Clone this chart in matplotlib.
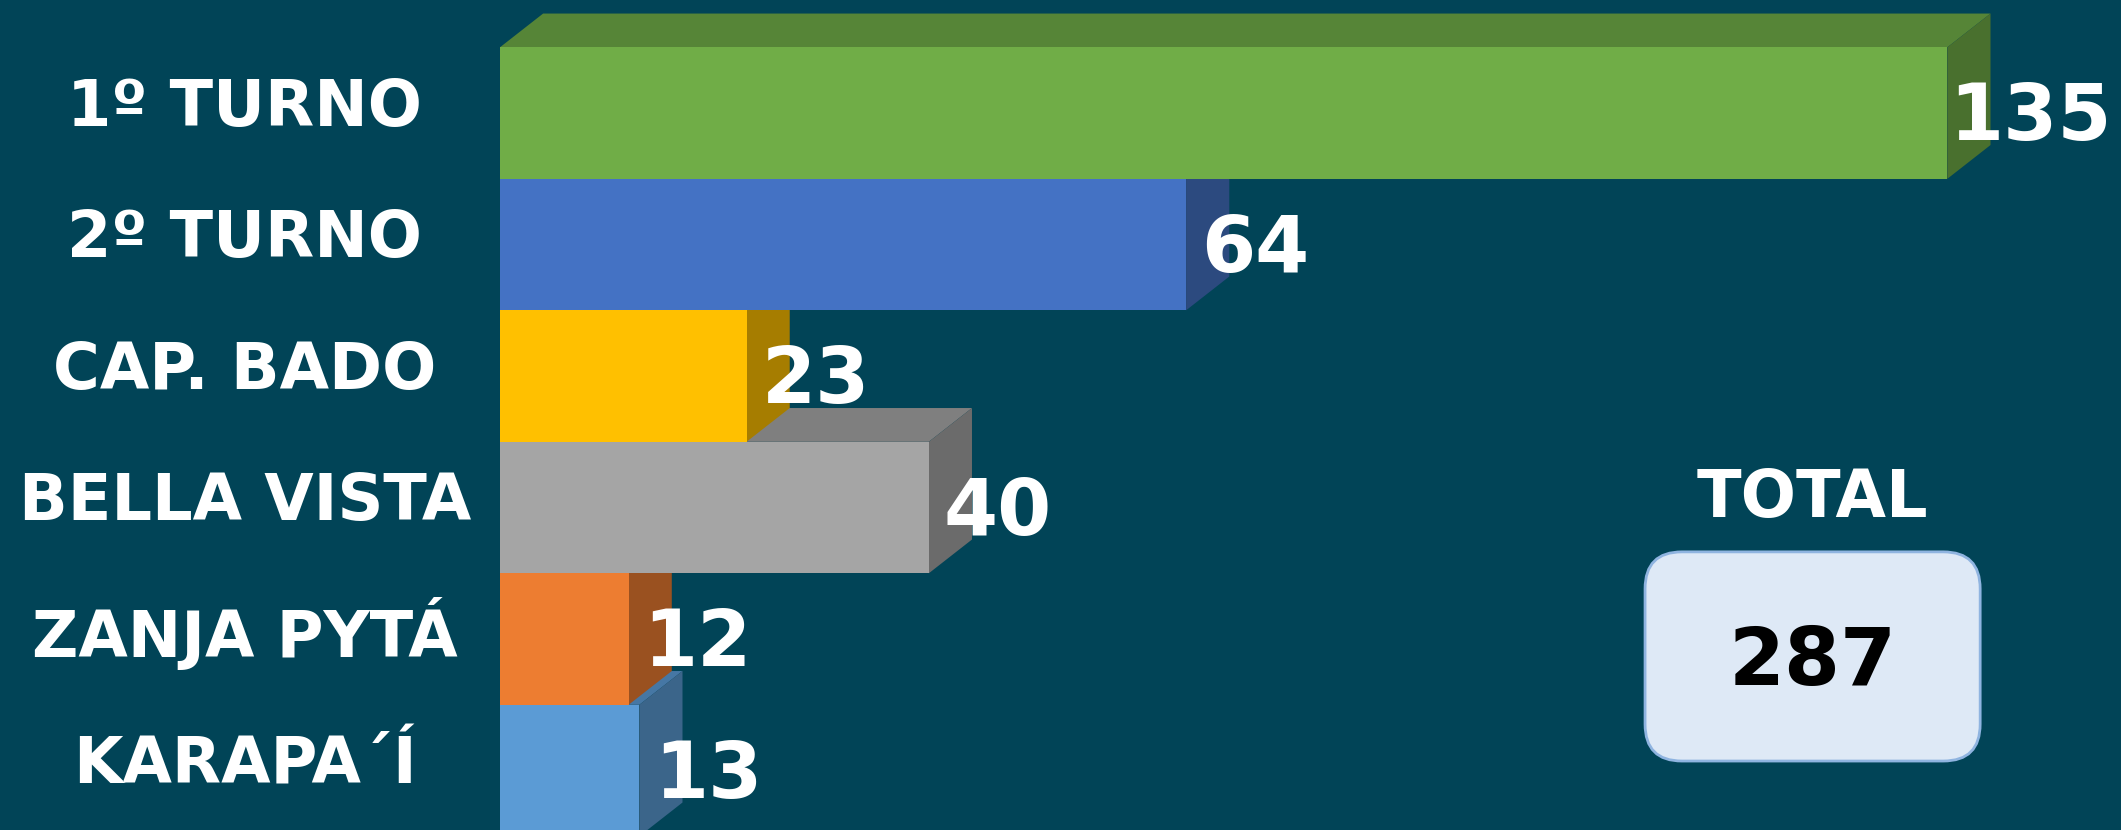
import numpy as np
import matplotlib.pyplot as plt
import matplotlib.transforms as mtransforms
from matplotlib.patches import Polygon, FancyBboxPatch
from matplotlib.colors import to_rgb

categorias = ["1º TURNO", "2º TURNO", "CAP. BADO", "BELLA VISTA", "ZANJA PYTÁ", "KARAPA´Í"]
valores = [135, 64, 23, 40, 12, 13]
colores = ["#70ad47", "#4472c4", "#ffc000", "#a5a5a5", "#ed7d31", "#5b9bd5"]
total = sum(valores)

fondo = "#014457"


def oscuro(c, f):
    r, g, b = to_rgb(c)
    return (r * f, g * f, b * f)


fig = plt.figure(figsize=(21.21, 8.3), dpi=100)
fig.patch.set_facecolor(fondo)
ax = fig.add_axes([0.2357, 0, 0.7643, 1])
ax.set_facecolor(fondo)
ax.set_xlim(0, 151.2)
ax.set_ylim(5.452, -0.86)
ax.axis("off")

# profundidad del efecto 3D
prof_x = 4.03
prof_y = 0.257
alto = 1.0

pos = np.arange(len(valores))
for i in reversed(range(len(valores))):
    v = valores[i]
    c = colores[i]
    z = 10 + (len(valores) - i) * 3
    y0 = pos[i] - alto / 2
    y1 = pos[i] + alto / 2
    ax.barh(pos[i], v, height=alto, color=c, linewidth=0, zorder=z + 2)
    arriba = Polygon([(0, y0), (prof_x, y0 - prof_y), (v + prof_x, y0 - prof_y), (v, y0)],
                     closed=True, facecolor=oscuro(c, 0.77), edgecolor="none", zorder=z)
    lado = Polygon([(v, y0), (v + prof_x, y0 - prof_y), (v + prof_x, y1 - prof_y), (v, y1)],
                   closed=True, facecolor=oscuro(c, 0.65), edgecolor="none", zorder=z + 1)
    ax.add_patch(arriba)
    ax.add_patch(lado)

# etiquetas de valor
for i, v in enumerate(valores):
    off = 0.2 if v == max(valores) else 1.4
    ax.text(v + off, pos[i] + 0.04, str(v), ha="left", va="center", fontsize=56,
            fontweight="bold", color="white", zorder=60)

# categorias a la izquierda
trans = mtransforms.blended_transform_factory(fig.transFigure, ax.transData)
for i, cat in enumerate(categorias):
    ax.text(0.1155, pos[i] - 0.04, cat, transform=trans, ha="center", va="center",
            fontsize=46, fontweight="bold", color="white", clip_on=False)

# caja del total
fig.text(0.8547, 0.3985, "TOTAL", ha="center", va="center", fontsize=47,
         fontweight="bold", color="white")
caja = FancyBboxPatch((0.7756, 0.0831), 0.158, 0.252,
                      boxstyle="round,pad=0,rounding_size=0.0174",
                      mutation_aspect=2121 / 830, transform=fig.transFigure,
                      facecolor="#dee9f6", edgecolor="#8fb4e0", linewidth=2)
fig.add_artist(caja)
fig.text(0.8547, 0.201, str(total), ha="center", va="center", fontsize=58,
         fontweight="bold", color="black")

fig.savefig("out.png", dpi=100, facecolor=fondo)
